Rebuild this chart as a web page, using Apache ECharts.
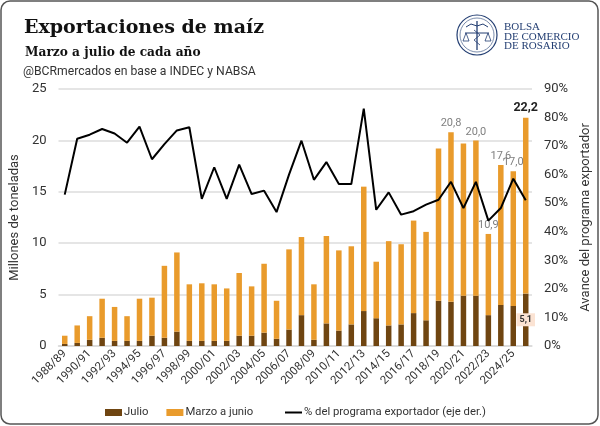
<!DOCTYPE html>
<html>
<head>
<meta charset="utf-8">
<script src="https://cdn.jsdelivr.net/npm/echarts@6/dist/echarts.min.js"></script>
<style>
  html, body { margin: 0; padding: 0; background: #fff; }
  #chart { width: 600px; height: 426px; }
</style>
</head>
<body>
<div id="chart"></div>
<script>
'use strict';

// campañas comerciales
var campanias = ['1988/89','1989/90','1990/91','1991/92','1992/93','1993/94','1994/95','1995/96',
  '1996/97','1997/98','1998/99','1999/00','2000/01','2001/02','2002/03','2003/04','2004/05',
  '2005/06','2006/07','2007/08','2008/09','2009/10','2010/11','2011/12','2012/13','2013/14',
  '2014/15','2015/16','2016/17','2017/18','2018/19','2019/20','2020/21','2021/22','2022/23',
  '2023/24','2024/25','2025/26'];

// millones de toneladas exportadas en julio
var julio = [0.2, 0.3, 0.6, 0.8, 0.5, 0.5, 0.5, 1.0, 0.8, 1.4, 0.5, 0.5, 0.5, 0.5, 1.0, 1.0, 1.3,
  0.7, 1.6, 3.0, 0.6, 2.2, 1.5, 2.1, 3.4, 2.7, 2.0, 2.1, 3.2, 2.5, 4.4, 4.3, 4.9, 4.9, 3.0,
  4.0, 3.9, 5.1];

// millones de toneladas exportadas de marzo a junio
var marzoJunio = [0.8, 1.7, 2.3, 3.8, 3.3, 2.4, 4.1, 3.7, 7.0, 7.7, 5.5, 5.6, 5.5, 5.1, 6.1, 4.8, 6.7,
  3.7, 7.8, 7.6, 5.4, 8.5, 7.8, 7.6, 12.1, 5.5, 8.2, 7.8, 9.0, 8.6, 14.8, 16.5, 14.8, 15.1, 7.9,
  13.6, 13.1, 17.1];

// % del programa exportador (eje derecho)
var avancePrograma = [53.0, 72.6, 74.0, 76.0, 74.4, 71.2, 76.8, 65.4, 70.7, 75.5, 76.6, 51.5, 62.6,
  51.5, 63.5, 53.2, 54.4, 46.9, 60.0, 71.9, 58.2, 64.4, 56.7, 56.7, 83.1, 47.7, 53.8, 46.0, 47.2,
  49.5, 51.2, 57.5, 48.3, 57.5, 43.9, 48.3, 58.6, 51.0];

// campañas con total rotulado
var rotulosTotal = ['2019/20', '2021/22', '2022/23', '2023/24', '2024/25'];
var campaniaActual = '2025/26';

var colorJulio = '#6f4511';
var colorMarzo = '#e99b2c';
var azulBcr = '#243f73';
var fuente = 'Roboto';

function fmt(v) {
    return v.toFixed(1).replace('.', ',');
}

var chart = echarts.init(document.getElementById('chart'));

var option = {
    backgroundColor: '#fff',
    animation: false,
    title: [
        {
            text: 'Exportaciones de maíz',
            left: 19, top: 14,
            textStyle: { fontFamily: 'DejaVu Serif', fontWeight: 'bold', fontSize: 19, color: '#111' }
        },
        {
            text: 'Marzo a julio de cada año',
            left: 20, top: 42,
            textStyle: { fontFamily: 'DejaVu Serif', fontWeight: 'bold', fontSize: 12.2, color: '#111' }
        },
        {
            text: '@BCRmercados en base a INDEC y NABSA',
            left: 18, top: 61,
            textStyle: { fontFamily: fuente, fontWeight: 'normal', fontSize: 12.2, color: '#333' }
        }
    ],
    graphic: [
        {
            type: 'rect',
            shape: { x: 1, y: 1, width: 597, height: 423, r: 9 },
            style: { fill: 'none', stroke: '#555', lineWidth: 1.5 },
            silent: true
        },
        // logo BCR simplificado
        { type: 'circle', shape: { cx: 477, cy: 35, r: 20 }, style: { fill: 'none', stroke: azulBcr, lineWidth: 1.2 } },
        { type: 'circle', shape: { cx: 477, cy: 35, r: 17 }, style: { fill: 'none', stroke: azulBcr, lineWidth: 0.6 } },
        { type: 'line', shape: { x1: 477, y1: 21, x2: 477, y2: 50 }, style: { stroke: azulBcr, lineWidth: 1.3 } },
        { type: 'polyline', shape: { points: [[466, 27], [471, 24], [477, 26], [483, 24], [488, 27]] }, style: { fill: 'none', stroke: azulBcr, lineWidth: 1 } },
        { type: 'line', shape: { x1: 465, y1: 33, x2: 489, y2: 33 }, style: { stroke: azulBcr, lineWidth: 1 } },
        { type: 'polyline', shape: { points: [[463, 41], [466, 33], [469, 41], [463, 41]] }, style: { fill: 'none', stroke: azulBcr, lineWidth: 0.8 } },
        { type: 'polyline', shape: { points: [[485, 41], [488, 33], [491, 41], [485, 41]] }, style: { fill: 'none', stroke: azulBcr, lineWidth: 0.8 } },
        { type: 'polyline', shape: { points: [[474, 30], [480, 35], [474, 40], [480, 45]] }, style: { fill: 'none', stroke: azulBcr, lineWidth: 0.8 } },
        {
            type: 'text', left: 504, top: 22,
            style: {
                text: 'BOLSA\nDE COMERCIO\nDE ROSARIO',
                font: '11px "Liberation Serif"',
                fill: azulBcr,
                lineHeight: 9.5
            }
        }
    ],
    legend: [
        {
            left: 100,
            top: 402,
            itemGap: 18,
            itemWidth: 17,
            itemHeight: 7,
            icon: 'rect',
            textStyle: { fontFamily: fuente, fontSize: 11.3, color: '#333', padding: [0, 0, 0, -3] },
            data: ['Julio', 'Marzo a junio']
        },
        {
            left: 280,
            top: 402,
            itemWidth: 17,
            itemHeight: 2,
            icon: 'rect',
            textStyle: { fontFamily: fuente, fontSize: 11.3, color: '#333', padding: [0, 0, 0, -3] },
            data: ['% del programa exportador (eje der.)']
        }
    ],
    grid: { left: 57, right: 68, top: 89, bottom: 80 },
    xAxis: {
        type: 'category',
        data: campanias,
        axisLine: { lineStyle: { color: '#d9d9d9', width: 1.5 } },
        axisTick: { show: false },
        axisLabel: {
            interval: 1,
            rotate: 45,
            fontFamily: fuente,
            fontSize: 11.5,
            color: '#333',
            margin: 6
        }
    },
    yAxis: [
        {
            type: 'value',
            min: 0, max: 25, interval: 5,
            name: 'Millones de toneladas',
            nameLocation: 'middle',
            nameGap: 31,
            nameTextStyle: { fontFamily: fuente, fontSize: 13, color: '#333' },
            axisLabel: { fontFamily: fuente, fontSize: 13, color: '#333', margin: 12 },
            splitLine: { lineStyle: { color: '#dcdcdc', width: 1.5 } },
            axisLine: { show: false },
            axisTick: { show: false }
        },
        {
            type: 'value',
            min: 0, max: 90, interval: 10,
            name: 'Avance del programa exportador',
            nameLocation: 'middle',
            nameGap: 44,
            nameRotate: 90,
            nameTextStyle: { fontFamily: fuente, fontSize: 13, color: '#333' },
            axisLabel: { fontFamily: fuente, fontSize: 13, color: '#333', margin: 12, formatter: '{value}%' },
            splitLine: { show: false },
            axisLine: { show: false },
            axisTick: { show: false }
        }
    ],
    series: [
        {
            name: 'Julio',
            type: 'bar',
            stack: 'total',
            barWidth: 5.5,
            itemStyle: { color: colorJulio },
            data: julio.map(function (v, i) {
                var item = { value: v };
                if (campanias[i] === campaniaActual) {
                    item.label = {
                        show: true,
                        position: 'inside',
                        formatter: function (p) { return fmt(p.value); },
                        fontFamily: fuente,
                        fontWeight: 'bold',
                        fontSize: 9,
                        color: '#333',
                        backgroundColor: '#fbe3d3',
                        padding: [2, 3]
                    };
                }
                return item;
            })
        },
        {
            name: 'Marzo a junio',
            type: 'bar',
            stack: 'total',
            barWidth: 5.5,
            itemStyle: { color: colorMarzo },
            data: marzoJunio.map(function (v, i) {
                var item = { value: v };
                if (campanias[i] === campaniaActual) {
                    item.label = { fontWeight: 'bold', fontSize: 12.5, color: '#222' };
                }
                return item;
            }),
            label: {
                show: true,
                position: 'top',
                distance: 3,
                fontFamily: fuente,
                fontSize: 11,
                color: '#808080',
                formatter: function (p) {
                    if (rotulosTotal.indexOf(p.name) < 0 && p.name !== campaniaActual) return '';
                    return fmt(julio[p.dataIndex] + marzoJunio[p.dataIndex]);
                }
            }
        },
        {
            name: '% del programa exportador (eje der.)',
            type: 'line',
            yAxisIndex: 1,
            data: avancePrograma,
            symbol: 'none',
            lineStyle: { color: '#000', width: 2 },
            itemStyle: { color: '#000' },
            z: 5
        }
    ]
};

chart.setOption(option);
</script>
</body>
</html>
